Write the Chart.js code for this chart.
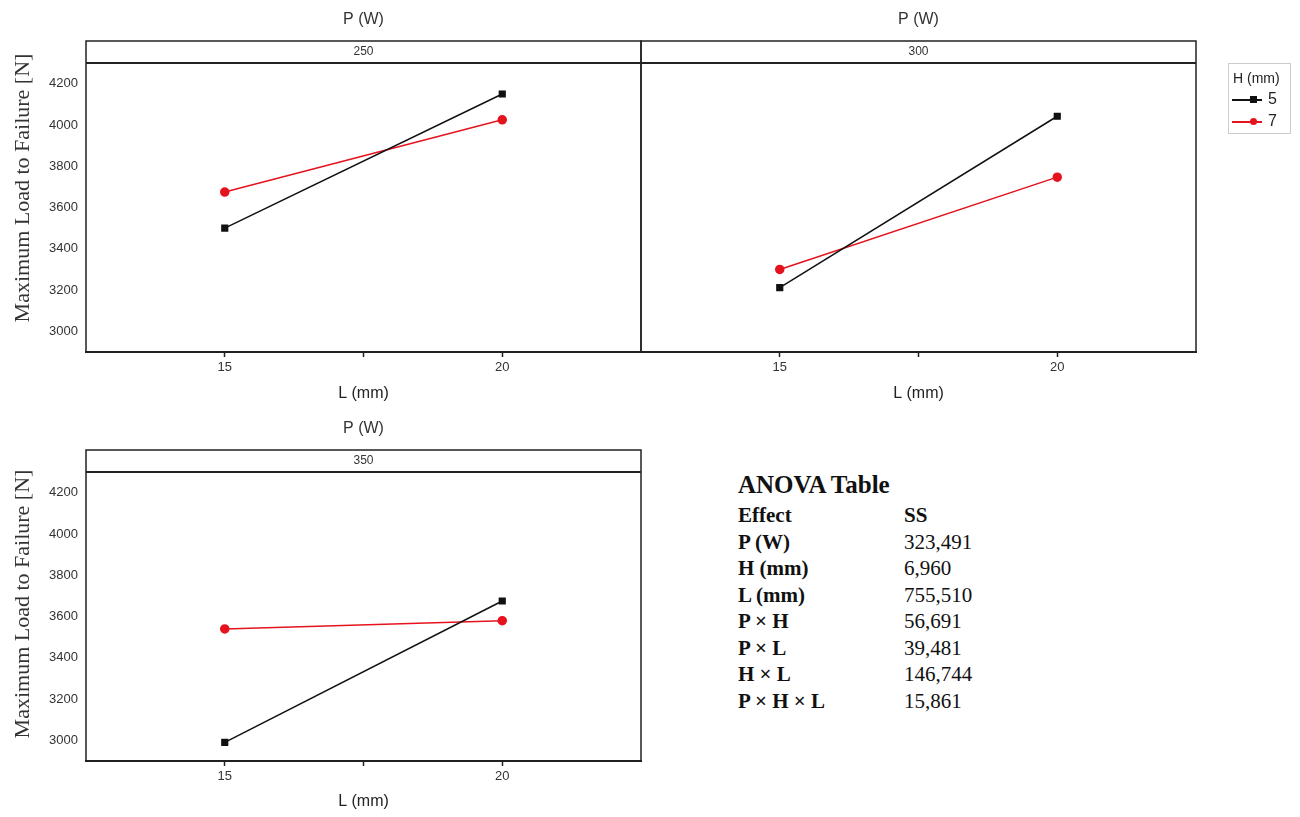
<!DOCTYPE html>
<html>
<head>
<meta charset="utf-8">
<script src="https://cdn.jsdelivr.net/npm/chart.js@4.4.1/dist/chart.umd.min.js"></script>
<style>
  body { margin: 0; background: #fff; width: 1300px; height: 817px; position: relative; overflow: hidden; }
  canvas { position: absolute; }
  .ytitle { position: absolute; font-family: "Liberation Serif", "Times New Roman", serif; font-size: 22px; color: #333;
            white-space: nowrap; transform: translate(-50%, -50%) rotate(-90deg); }
  .legend { position: absolute; left: 1228px; top: 63px; width: 61px; height: 69px; border: 1px solid #ccc;
            font-family: "Liberation Sans", Arial, sans-serif; color: #222; }
  .legend .hd { position: absolute; left: 4px; top: 6px; font-size: 14px; }
  .legend .row { position: absolute; left: 3px; height: 16px; width: 56px; }
  .legend .ln { position: absolute; left: 0; top: 8px; width: 30px; height: 1.5px; }
  .legend .mk { position: absolute; left: 18px; top: 5px; width: 7px; height: 7px; }
  .legend .lb { position: absolute; left: 36px; top: -1px; font-size: 16px; }
  .anova { position: absolute; left: 738px; top: 470px; font-family: "Liberation Serif", "Times New Roman", serif; color: #111; }
  .anova h1 { margin: 0; font-size: 25px; font-weight: bold; line-height: 30px; }
  .anova table { border-collapse: collapse; margin-top: 2px; }
  .anova td { padding: 0; font-size: 21px; line-height: 26.5px; }
  .anova td:first-child { font-weight: bold; width: 166px; }
</style>
</head>
<body>
<canvas id="c1" width="660" height="409" style="left:0;top:0"></canvas>
<canvas id="c2" width="640" height="409" style="left:600px;top:0"></canvas>
<canvas id="c3" width="660" height="408" style="left:0;top:409px"></canvas>

<div class="ytitle" style="left:22px;top:188px">Maximum Load to Failure [N]</div>
<div class="ytitle" style="left:22px;top:604px">Maximum Load to Failure [N]</div>

<div class="legend">
  <div class="hd">H (mm)</div>
  <div class="row" style="top:27px"><div class="ln" style="background:#111"></div><div class="mk" style="background:#111"></div><div class="lb">5</div></div>
  <div class="row" style="top:49px"><div class="ln" style="background:#e5131d"></div><div class="mk" style="background:#e5131d;border-radius:50%"></div><div class="lb">7</div></div>
</div>

<div class="anova">
  <h1>ANOVA Table</h1>
  <table id="anovaTbl"></table>
</div>

<script>
// ===== DATA =====
const lengths = [15, 20];              // L (mm)
const powers = ['250', '300', '350'];  // P (W) facets
const hLabels = ['5', '7'];            // H (mm)

// maximum load to failure [N], per power level
const h5_250 = [3500, 4150];
const h7_250 = [3675, 4025];
const h5_300 = [3212, 4042];
const h7_300 = [3300, 3747];
const h5_350 = [2990, 3675];
const h7_350 = [3540, 3580];

const yTicks = [3000, 3200, 3400, 3600, 3800, 4000, 4200];
const xTicks = [15, 17.5, 20];
const xTickLabels = ['15', '', '20'];

const anovaEffects = ['Effect', 'P (W)', 'H (mm)', 'L (mm)', 'P × H', 'P × L', 'H × L', 'P × H × L'];
const anovaSS = ['SS', '323,491', '6,960', '755,510', '56,691', '39,481', '146,744', '15,861'];

// ===== ANOVA TABLE =====
const tbl = document.getElementById('anovaTbl');
anovaEffects.forEach((e, i) => {
    const tr = document.createElement('tr');
    tr.innerHTML = `<td>${e}</td><td${i === 0 ? ' style="font-weight:bold"' : ''}>${anovaSS[i]}</td>`;
    tbl.appendChild(tr);
});

// ===== FACET FRAME PLUGIN =====
const SANS = '"Liberation Sans", Arial, sans-serif';
const facetFrame = {
    id: 'facetFrame',
    afterDraw(chart, args, opts) {
        const { ctx, chartArea: a } = chart;
        ctx.save();
        ctx.strokeStyle = '#222';
        ctx.lineWidth = 1.5;
        ctx.strokeRect(a.left, a.top - 22, a.right - a.left, a.bottom - a.top + 22);
        ctx.lineWidth = 2;
        ctx.beginPath();
        ctx.moveTo(a.left, a.top);
        ctx.lineTo(a.right, a.top);
        ctx.stroke();
        ctx.fillStyle = '#333';
        ctx.textAlign = 'center';
        ctx.textBaseline = 'middle';
        ctx.font = '12px ' + SANS;
        ctx.fillText(opts.strip, (a.left + a.right) / 2, a.top - 11);
        ctx.font = '16px ' + SANS;
        ctx.fillText('P (W)', (a.left + a.right) / 2, a.top - 43);
        ctx.restore();
    }
};

function makeChart(id, strip, h5, h7, showY, pad, xHeight) {
    const ctx = document.getElementById(id).getContext('2d');
    return new Chart(ctx, {
        type: 'line',
        data: {
            datasets: [
                {
                    label: hLabels[0],
                    data: lengths.map((x, i) => ({ x: x, y: h5[i] })),
                    borderColor: '#111', backgroundColor: '#111',
                    borderWidth: 1.5, pointStyle: 'rect', pointRadius: 4, tension: 0
                },
                {
                    label: hLabels[1],
                    data: lengths.map((x, i) => ({ x: x, y: h7[i] })),
                    borderColor: '#e5131d', backgroundColor: '#e5131d',
                    borderWidth: 1.5, pointStyle: 'circle', pointRadius: 4, tension: 0
                }
            ]
        },
        options: {
            responsive: false,
            animation: false,
            events: [],
            layout: { padding: pad },
            plugins: { legend: { display: false }, tooltip: { enabled: false }, facetFrame: { strip: strip } },
            scales: {
                x: {
                    type: 'linear', min: 12.5, max: 22.5,
                    afterBuildTicks: s => { s.ticks = xTicks.map(v => ({ value: v })); },
                    afterFit: s => { s.height = xHeight; },
                    ticks: {
                        callback: (v) => xTickLabels[xTicks.indexOf(v)],
                        color: '#333', padding: 3, maxRotation: 0,
                        font: { family: SANS, size: 13 }
                    },
                    grid: { drawOnChartArea: false, tickLength: 5, color: '#222', tickWidth: 1.5 },
                    border: { display: true, color: '#222', width: 2 },
                    title: { display: true, text: 'L (mm)', color: '#222', padding: { bottom: 6 },
                             font: { family: SANS, size: 16 } }
                },
                y: {
                    display: showY,
                    min: 2900, max: 4300,
                    afterBuildTicks: s => { s.ticks = yTicks.map(v => ({ value: v })); },
                    afterFit: s => { s.width = showY ? 86 : 0; },
                    ticks: { color: '#333', padding: 8, font: { family: SANS, size: 13 },
                             callback: (v) => String(v) },
                    grid: { display: false, drawTicks: false },
                    border: { display: false }
                }
            }
        },
        plugins: [facetFrame]
    });
}

makeChart('c1', powers[0], h5_250, h7_250, true, { top: 63, right: 19, left: 0, bottom: 0 }, 57);
makeChart('c2', powers[1], h5_300, h7_300, false, { top: 63, right: 44, left: 41, bottom: 0 }, 57);
makeChart('c3', powers[2], h5_350, h7_350, true, { top: 63, right: 19, left: 0, bottom: 0 }, 56);
</script>
</body>
</html>
